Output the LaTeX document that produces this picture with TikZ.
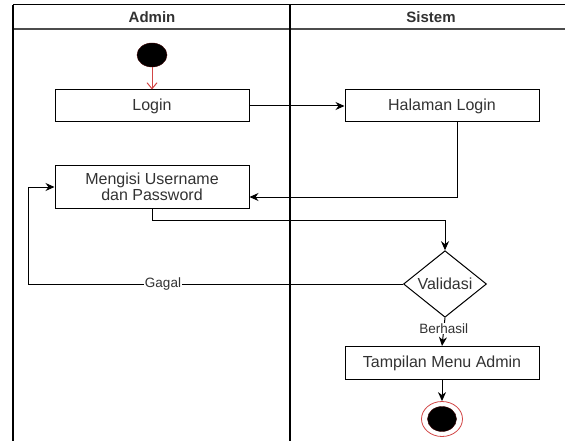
\documentclass[tikz,border=0pt]{standalone}
\usepackage{fontspec}
\setmainfont{Liberation Sans}
\usetikzlibrary{arrows.meta,shapes.geometric}
\definecolor{actred}{RGB}{210, 70, 70}
\definecolor{actdark}{RGB}{60, 0, 0}
\definecolor{acttext}{RGB}{50, 50, 50}

\begin{document}
\begin{tikzpicture}[x=1pt, y=-1pt,
  act/.style={draw, line width=1pt, rectangle, minimum width=194pt, minimum height=32pt,
    font=\fontsize{16}{16}\selectfont, text=acttext, align=center},
  flow/.style={draw, line width=1pt, -{Stealth[length=9pt,width=8pt]}},
  lbl/.style={fill=white, inner sep=1pt, font=\fontsize{13.5}{15}\selectfont, text=acttext}]
\useasboundingbox (0,0) rectangle (565,441);

% Swimlanes
\draw[line width=1pt] (13,5) -- (565,5);
\draw[line width=1.2pt, black!70] (13,29) -- (565,29);
\draw[line width=1.2pt] (13,5) -- (13,441);
\draw[line width=1.2pt] (290,5) -- (290,441);
\node[font=\bfseries\fontsize{15}{17}\selectfont, text=acttext] (admin) at (152,17) {Admin};
\node[font=\bfseries\fontsize{15}{17}\selectfont, text=acttext] (sistem) at (431,17) {Sistem};

% Start and end
\node[draw=actdark, fill=black, ellipse, minimum width=30pt, minimum height=24pt, inner sep=0pt] (start) at (152,55) {};
\node[draw=actred, line width=0.8pt, fill=white, ellipse, minimum width=41pt, minimum height=35pt, inner sep=0pt] (end) at (442,419) {};
\node[draw=actdark, fill=black, ellipse, minimum width=29pt, minimum height=25pt, inner sep=0pt] (endin) at (442,419) {};

% Activities
\node[act] (login) at (152,106) {Login};
\node[act] (halaman) at (442,106) {Halaman Login};
\node[act, minimum height=43pt] (mengisi) at (152,187) {Mengisi Username\\dan Password};
\node[draw, line width=1pt, diamond, minimum width=83pt, minimum height=59pt, inner sep=0pt,
  font=\fontsize{16}{16}\selectfont, text=acttext] (validasi) at (445,284) {Validasi};
\node[act, minimum height=33pt] (tampilan) at (442,363) {Tampilan Menu Admin};
\coordinate (gagalturn) at (28,284);

% Arrows
\draw[line width=1pt, actred, -{Straight Barb[length=6pt,width=10pt]}] (start) -- (login);
\draw[flow] (login) -- (halaman);
\draw[flow] ([xshift=15pt]halaman.south) |- ([yshift=-10pt]mengisi.east);
\draw[flow] (mengisi.south) -- ++(0,11) -| (validasi.north);
\draw[flow] (validasi.west) -- node[lbl, pos=0.64] {Gagal} (gagalturn) |- (mengisi.west);
\draw[flow] (validasi.south) -- node[lbl, pos=0.38] {Berhasil} (tampilan.north);
\draw[flow] (tampilan.south) -- (end.north);
\end{tikzpicture}
\end{document}
